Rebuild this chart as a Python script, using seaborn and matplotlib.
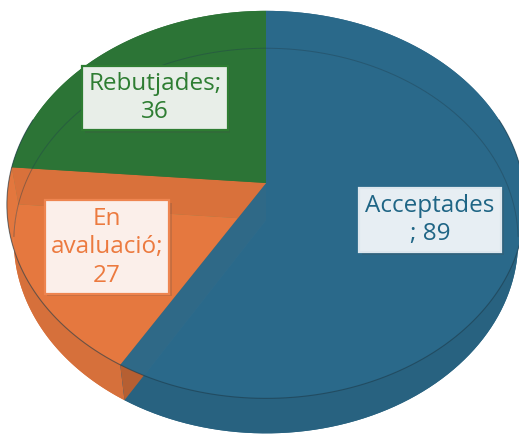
import numpy as np
import matplotlib.pyplot as plt
import seaborn as sns
from matplotlib.patches import Polygon
from matplotlib.colors import to_rgb
from matplotlib import patheffects as pe

# data
categories = ["Acceptades", "En avaluació", "Rebutjades"]
values = [89, 27, 36]
label_texts = ["Acceptades\n; 89", "En\navaluació;\n27", "Rebutjades;\n36"]
colors = ["#2B6A8B", "#E97A40", "#2D7537"]

sns.set_theme(style="white")
plt.rcParams["font.family"] = ["Open Sans", "DejaVu Sans"]

W, H = 519, 436
fig = plt.figure(figsize=(W / 100, H / 100), dpi=100)
ax = fig.add_axes([0, 0, 1, 1])
ax.set_xlim(0, W)
ax.set_ylim(H, 0)
ax.axis("off")

# simple perspective camera looking down on the pie
CX, CY = 266, 183
F, D0 = 1545, 6.0
tilt = np.deg2rad(48)
st, ct = np.sin(tilt), np.cos(tilt)
THICK = 0.22


def proj(x, z, t=0.0):
    Y = z * st + t * ct
    dep = D0 + z * ct - t * st
    return np.column_stack([CX + F * x / dep, CY - F * Y / dep])


def arc(a0, a1, t=0.0, n=120):
    phi = np.deg2rad(np.linspace(a0, a1, n))
    return proj(np.cos(phi), np.sin(phi), np.full(n, t))


def shade(c, k):
    return tuple(np.clip(np.array(to_rgb(c)) * k, 0, 1))


frac = np.array(values) / sum(values)
edges = 90 - 360 * np.concatenate([[0], np.cumsum(frac)])
slices = [(edges[i], edges[i + 1]) for i in range(len(values))]

center_top = proj(np.array([0.0]), np.array([0.0]), 0.0)
center_bot = proj(np.array([0.0]), np.array([0.0]), -THICK)

# bottom faces
for (a0, a1), c in zip(slices, colors):
    pts = np.vstack([center_bot, arc(a0, a1, -THICK)])
    ax.add_patch(Polygon(pts, closed=True, fc=shade(c, 0.95), ec="none"))

# outer walls
for (a0, a1), c in zip(slices, colors):
    pts = np.vstack([arc(a0, a1, 0.0), arc(a0, a1, -THICK)[::-1]])
    ax.add_patch(Polygon(pts, closed=True, fc=shade(c, 0.92), ec="none"))

# radial faces (only really visible through the orange slice, drawn last)
face_k = [0.97, 0.78, 0.97]
for i in sorted(range(len(values)), key=lambda j: -face_k[j]):
    (a0, a1), c, k = slices[i], colors[i], face_k[i]
    for a in (a0, a1):
        rt = arc(a, a, 0.0, 1)
        rb = arc(a, a, -THICK, 1)
        pts = np.vstack([center_top, rt, rb, center_bot])
        ax.add_patch(Polygon(pts, closed=True, fc=shade(c, k), ec="none"))

# top faces, slightly see-through
alphas = [0.97, 0.7, 0.97]
for (a0, a1), c, al in zip(slices, colors, alphas):
    pts = np.vstack([center_top, arc(a0, a1, 0.0)])
    ax.add_patch(Polygon(pts, closed=True, fc=c, ec="none", alpha=al))

# rim lines
back = arc(-5, 185, -THICK, 300)
ax.plot(back[:, 0], back[:, 1], color="#1d3b4a", lw=0.7, alpha=0.4)
front = arc(-200, 20, 0.0, 300)
ax.plot(front[:, 0], front[:, 1], color="#1d3b4a", lw=0.8, alpha=0.6)

# data labels
label_pos = [(430, 220), (107, 247), (155, 98)]
text_cols = ["#1F6585", "#EC7A3F", "#2E7D32"]
box_fc = ["#E7EEF3", "#FBEFEA", "#E8EEE8"]
box_ec = ["#DCE6ED", "#EE8550", "#2E7D32"]
for txt, (x, y), tc, fc, ec in zip(label_texts, label_pos, text_cols, box_fc, box_ec):
    t = ax.text(x, y, txt, ha="center", va="center", fontsize=17.5, color=tc,
                linespacing=1.25,
                bbox=dict(boxstyle="square,pad=0.25", fc=fc, ec=ec, lw=1.6))
    t.get_bbox_patch().set_path_effects(
        [pe.SimplePatchShadow(offset=(2, -2), alpha=0.2), pe.Normal()])

fig.savefig("out.png", dpi=100)
